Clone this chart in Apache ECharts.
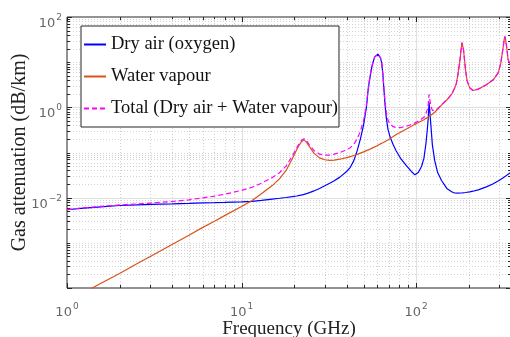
<!DOCTYPE html>
<html>
<head>
<meta charset="utf-8">
<script src="https://cdn.jsdelivr.net/npm/echarts@6/dist/echarts.min.js"></script>
<style>
  html, body { margin: 0; padding: 0; background: #fff; }
  #chart { width: 510px; height: 337px; }
</style>
</head>
<body>
<div id="chart"></div>
<script>
// Specific gaseous attenuation at sea level (dB/km) versus frequency (GHz)
const freqGHz = [
  1, 1.2, 1.5, 2, 2.5, 3, 4, 5, 6, 7,
  8, 10, 11.5, 13, 15, 16.5, 18, 19.5, 20.7, 21.5,
  22.2, 22.8, 23.6, 24.5, 26, 28, 30, 32, 34, 36.6,
  40, 42, 44, 46, 48, 50, 51, 52, 53, 54,
  55, 56, 57, 58, 59.5, 60.5, 61.5, 62.5, 63.5, 64.5,
  65.5, 66.5, 67.5, 69, 71, 74, 77, 82, 88, 94,
  98.5, 103, 107.5, 111, 114, 116, 117.5, 118.75, 120, 121.5,
  124, 128, 133, 140, 150, 160, 166, 170, 174, 177,
  179.5, 181.5, 183.3, 185, 187, 189, 192, 196, 203, 212,
  227, 253, 277, 295, 305, 311, 316, 320, 323, 326,
  330, 337, 345, 350
];

const dryAir = [
  0.0054, 0.0058, 0.0062, 0.0067, 0.0069, 0.0071, 0.0073, 0.0075, 0.0077, 0.0078,
  0.0079, 0.0081, 0.0083, 0.0087, 0.0093, 0.0097, 0.0101, 0.0105, 0.0109, 0.0112,
  0.0115, 0.0118, 0.0123, 0.0129, 0.0141, 0.0160, 0.0183, 0.0208, 0.0237, 0.0285,
  0.038, 0.047, 0.066, 0.11, 0.20, 0.40, 0.64, 1.04, 2.2, 3.8,
  5.8, 8.3, 10.7, 13.1, 14.5, 15.0, 14.4, 12.5, 9.8, 5.6,
  2.4, 1.1, 0.6, 0.33, 0.22, 0.148, 0.108, 0.072, 0.051, 0.038,
  0.032, 0.036, 0.049, 0.075, 0.16, 0.32, 0.58, 1.3, 0.80, 0.42,
  0.15, 0.065, 0.036, 0.024, 0.016, 0.0135, 0.0127, 0.0126, 0.0126, 0.0126,
  0.0127, 0.0127, 0.0127, 0.0128, 0.0128, 0.0129, 0.0130, 0.0131, 0.0134, 0.0139,
  0.0149, 0.0173, 0.0204, 0.0234, 0.0253, 0.0265, 0.0276, 0.0285, 0.0292, 0.0300,
  0.0310, 0.0329, 0.0352, 0.0367
];

const waterVapour = [
  0.000049, 0.000072, 0.000116, 0.00021, 0.00034, 0.0005, 0.00092, 0.00147, 0.0022, 0.0030,
  0.0040, 0.0064, 0.0087, 0.0122, 0.0185, 0.026, 0.040, 0.072, 0.115, 0.150,
  0.178, 0.19, 0.168, 0.135, 0.097, 0.076, 0.069, 0.067, 0.068, 0.071,
  0.077, 0.081, 0.086, 0.091, 0.097, 0.103, 0.106, 0.110, 0.113, 0.117,
  0.121, 0.125, 0.129, 0.133, 0.140, 0.145, 0.150, 0.155, 0.160, 0.165,
  0.170, 0.176, 0.182, 0.19, 0.205, 0.225, 0.25, 0.285, 0.33, 0.38,
  0.42, 0.46, 0.50, 0.53, 0.57, 0.59, 0.61, 0.63, 0.65, 0.67,
  0.71, 0.78, 0.90, 1.12, 1.45, 1.95, 2.6, 3.3, 5.5, 8.8,
  13.5, 20.5, 27, 24.5, 19, 12.5, 6.8, 3.9, 2.7, 2.36,
  2.52, 3.15, 4.06, 5.7, 8.9, 14.5, 22, 32, 37, 31,
  23, 11.3, 9.4, 9.0
];

const totalAtt = [
  0.00545, 0.00587, 0.00632, 0.00691, 0.00724, 0.0076, 0.00822, 0.00897, 0.0099, 0.0108,
  0.0119, 0.0145, 0.0170, 0.0209, 0.0278, 0.0357, 0.0501, 0.0825, 0.126, 0.161,
  0.190, 0.202, 0.180, 0.148, 0.111, 0.092, 0.0873, 0.0878, 0.0917, 0.0995,
  0.115, 0.128, 0.152, 0.201, 0.297, 0.503, 0.746, 1.15, 2.31, 3.92,
  5.92, 8.43, 10.83, 13.23, 14.64, 15.15, 14.55, 12.66, 9.96, 5.77,
  2.57, 1.28, 0.782, 0.52, 0.425, 0.373, 0.358, 0.357, 0.381, 0.418,
  0.452, 0.496, 0.549, 0.605, 0.73, 0.91, 1.19, 1.93, 1.45, 1.09,
  0.86, 0.845, 0.936, 1.144, 1.466, 1.964, 2.613, 3.313, 5.513, 8.813,
  13.51, 20.51, 27.01, 24.51, 19.01, 12.51, 6.81, 3.91, 2.71, 2.37,
  2.535, 3.167, 4.080, 5.723, 8.925, 14.53, 22.03, 32.03, 37.03, 31.03,
  23.03, 11.33, 9.435, 9.037
];

// Tick labels (powers of ten) shown on each axis
const xLabelExponents = [0, 1, 2];
const yLabelExponents = [-2, 0, 2];

// Gridline / tick positions
const xMajorGrid = [10, 100];
const xEdgeTicks = [1];
const xMinorGrid = [];
[1, 10, 100].forEach(d => { for (let m = 2; m <= 9; m++) if (m * d < 350) xMinorGrid.push(m * d); });
const yMajorGrid = [1e-2, 1];
const yEdgeTicks = [1e-4, 1e2];
const yMinorGrid = [1e-3, 1e-1, 1e1];
[1e-4, 1e-3, 1e-2, 1e-1, 1, 10].forEach(d => { for (let m = 2; m <= 9; m++) yMinorGrid.push(m * d); });

const seriesNames = ['Dry air (oxygen)', 'Water vapour', 'Total (Dry air + Water vapour)'];

const pairs = vals => freqGHz.map((f, i) => [f, vals[i]]);

// kinds: 0 x-major, 1 x-minor, 2 y-major, 3 y-minor, 4 x-edge tick, 5 y-edge tick
const gridItems = [];
xMajorGrid.forEach(v => gridItems.push([v, 1, 0]));
xMinorGrid.forEach(v => gridItems.push([v, 1, 1]));
xEdgeTicks.forEach(v => gridItems.push([v, 1, 4]));
yMajorGrid.forEach(v => gridItems.push([10, v, 2]));
yMinorGrid.forEach(v => gridItems.push([10, v, 3]));
yEdgeTicks.forEach(v => gridItems.push([10, v, 5]));

const AXIS_COLOR = '#262626';
const MAJOR_GRID = '#e0e0e0';
const MINOR_GRID = '#d2d2d2';

function renderGrid(params, api) {
  const cs = params.coordSys;
  const left = cs.x, right = cs.x + cs.width, top = cs.y, bottom = cs.y + cs.height;
  const kind = api.value(2);
  const p = api.coord([api.value(0), api.value(1)]);
  const kids = [];
  const ln = (x1, y1, x2, y2, style) => kids.push({ type: 'line', shape: { x1, y1, x2, y2 }, style });
  const tickStyle = { stroke: AXIS_COLOR, lineWidth: 1 };
  if (kind === 0 || kind === 1 || kind === 4) {
    const x = Math.round(p[0]) + 0.5;
    if (kind === 0) ln(x, top, x, bottom, { stroke: MAJOR_GRID, lineWidth: 1 });
    if (kind === 1) ln(x, top, x, bottom, { stroke: MINOR_GRID, lineWidth: 1, lineDash: [1, 2] });
    const len = kind === 1 ? 3 : 5;
    ln(x, bottom, x, bottom - len, tickStyle);
    ln(x, top, x, top + len, tickStyle);
  } else {
    const y = Math.round(p[1]) + 0.5;
    if (kind === 2) ln(left, y, right, y, { stroke: MAJOR_GRID, lineWidth: 1 });
    if (kind === 3) ln(left, y, right, y, { stroke: MINOR_GRID, lineWidth: 1, lineDash: [1, 2] });
    const len = kind === 3 ? 3 : 5;
    ln(left, y, left + len, y, tickStyle);
    ln(right, y, right - len, y, tickStyle);
  }
  return { type: 'group', children: kids, silent: true };
}

const labelRich = {
  b: { fontFamily: 'DejaVu Sans', fontSize: 13, lineHeight: 13, color: '#666', verticalAlign: 'bottom' },
  s: { fontFamily: 'DejaVu Sans', fontSize: 9, lineHeight: 9, color: '#666', verticalAlign: 'bottom', padding: [0, 0, 8, 1] }
};

function powLabel(allowed) {
  return v => {
    const e = Math.log10(v);
    const r = Math.round(e);
    if (Math.abs(e - r) > 1e-6 || allowed.indexOf(r) < 0) return '';
    return '{b|10}{s|' + String(r).replace('-', '\u2212') + '}';
  };
}

const serifFont = 'Liberation Serif';
const dash = [5, 3];

const chart = echarts.init(document.getElementById('chart'), null, { renderer: 'canvas' });
chart.setOption({
  animation: false,
  backgroundColor: '#fff',
  grid: {
    left: 67, top: 17, right: -1, bottom: 49,
    show: true, borderColor: AXIS_COLOR, borderWidth: 1, backgroundColor: '#fff',
    outerBoundsMode: 'none'
  },
  legend: {
    data: [
      { name: seriesNames[0] },
      { name: seriesNames[1] },
      { name: seriesNames[2], lineStyle: { type: dash } }
    ],
    orient: 'vertical',
    left: 81, top: 26,
    itemWidth: 22, itemHeight: 14, itemGap: 13,
    padding: [9, 1, 9, 2],
    backgroundColor: '#fff', borderColor: AXIS_COLOR, borderWidth: 1,
    itemStyle: { opacity: 0 },
    textStyle: { fontFamily: serifFont, fontSize: 18.5, color: '#111' }
  },
  xAxis: {
    type: 'log', logBase: 10, min: 1, max: 350,
    name: 'Frequency (GHz)', nameLocation: 'middle', nameGap: 32, nameMoveOverlap: false,
    nameTextStyle: { fontFamily: serifFont, fontSize: 19, color: '#222' },
    axisLine: { show: false }, axisTick: { show: false }, splitLine: { show: false }, minorTick: { show: false },
    axisLabel: { margin: 18, formatter: powLabel(xLabelExponents), rich: labelRich }
  },
  yAxis: {
    type: 'log', logBase: 10, min: 1e-4, max: 1e2,
    name: 'Gas attenuation (dB/km)', nameLocation: 'middle', nameGap: 37, nameMoveOverlap: false,
    nameTextStyle: { fontFamily: serifFont, fontSize: 20, color: '#222' },
    axisLine: { show: false }, axisTick: { show: false }, splitLine: { show: false }, minorTick: { show: false },
    axisLabel: { margin: 5, padding: [13, 0, 0, 0], formatter: powLabel(yLabelExponents), rich: labelRich }
  },
  series: [
    {
      type: 'custom', name: 'grid', renderItem: renderGrid, data: gridItems,
      encode: { x: 0, y: 1 }, z: 1, silent: true, clip: false
    },
    {
      name: seriesNames[0], type: 'line', data: pairs(dryAir), symbol: 'none', showSymbol: false,
      lineStyle: { color: '#0000ff', width: 1.2 }, itemStyle: { color: '#0000ff' }, z: 3
    },
    {
      name: seriesNames[1], type: 'line', data: pairs(waterVapour), symbol: 'none', showSymbol: false,
      lineStyle: { color: '#d95319', width: 1.2 }, itemStyle: { color: '#d95319' }, z: 4
    },
    {
      name: seriesNames[2], type: 'line', data: pairs(totalAtt), symbol: 'none', showSymbol: false,
      lineStyle: { color: '#ff00ff', width: 1.2, type: dash }, itemStyle: { color: '#ff00ff' }, z: 5
    }
  ]
});
</script>
</body>
</html>
